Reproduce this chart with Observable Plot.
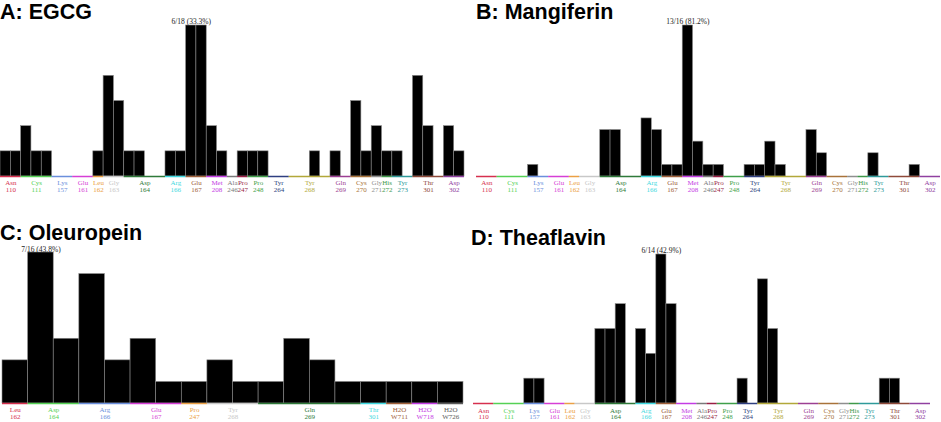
<!DOCTYPE html>
<html><head><meta charset="utf-8">
<script src="https://cdn.jsdelivr.net/npm/d3@7"></script>
<script src="https://cdn.jsdelivr.net/npm/@observablehq/plot@0.6"></script>
<style>
body{margin:0;background:#fff;}
#wrap{position:relative;width:941px;height:422px;overflow:hidden;background:#fff;}
.title{position:absolute;font-family:"Liberation Sans",Arial,sans-serif;font-weight:bold;font-size:21.5px;line-height:normal;color:#000;white-space:nowrap;}
.panel{position:absolute;}
</style></head><body><div id="wrap"></div>
<script>
// Residue layout shared by panels A, B and D
const residueNames = ["Asn","Cys","Lys","Glu","Leu","Gly","Asp","Arg","Glu","Met","Ala","Pro","Pro","Tyr","Tyr","Gln","Cys","Gly","His","Tyr","Thr","Asp"];
const residueNums  = ["110","111","157","161","162","163","164","166","167","208","246","247","248","264","268","269","270","271","272","273","301","302"];
const residueSlots = [2,3,2,2,1,2,4,2,2,2,1,1,2,2,4,2,2,1,1,2,3,2];

// Residue layout of panel C
const oleuNames = ["Leu","Asp","Arg","Glu","Pro","Tyr","Gln","Thr","H2O","H2O","H2O"];
const oleuNums  = ["162","164","166","167","247","268","269","301","W711","W718","W726"];
const oleuSlots = [1,2,2,2,1,2,4,1,1,1,1];

// Label colours (in order of appearance)
const palette = ["#d6304f","#55d155","#6b8fdc","#d63fd6","#eba045","#c8c8c8","#2f7a3a","#3fd9e0","#a0603a","#c43ce4","#7a7a7a",
                 "#9a1f45","#3f9f4a","#2f3f80","#b2a83a","#9c3f93","#a8733a","#8f8f8f","#3f9a4a","#2f9a9a","#8f4a3a","#9040a0"];
const oleuPalette = ["#d6304f","#55d155","#6b8fdc","#d63fd6","#eba045","#c8c8c8","#2f7a3a","#3fd9e0","#a0603a","#c43ce4","#5a5a5a"];

// Contact counts per slot
const egcg       = [1,1,2,1,1,0,0,0,0,1,4,3,1,1,0,0,1,1,6,6,2,1,0,1,1,1,0,0,0,0,1,0,1,0,3,1,2,1,1,0,4,2,0,2,1];
const mangiferin = [0,0,0,0,0,1,0,0,0,0,0,0,4,4,0,0,5,4,1,1,13,3,1,1,0,0,1,1,3,1,0,0,4,2,0,0,0,0,2,0,0,0,1,0,0];
const oleuropein = [2,7,3,6,2,3,1,1,2,1,1,3,2,1,1,1,1,1];
const theaflavin = [0,0,0,0,0,1,1,0,0,0,0,0,3,3,4,0,3,2,6,4,0,0,0,0,0,0,1,0,5,3,0,0,0,0,0,0,0,0,0,0,1,1,0,0,0];

const titles = ["A: EGCG","B: Mangiferin","C: Oleuropein","D: Theaflavin"];
const peakLabels = ["6/18 (33.3%)","13/16 (81.2%)","7/16 (43.8%)","6/14 (42.9%)"];

const serif = "'Liberation Serif','Times New Roman',serif";
const wrap = document.getElementById("wrap");

function spans(names, nums, slots, colors) {
  let s = 0;
  return names.map((n, i) => {
    const o = {name: n, num: nums[i], start: s, end: s + slots[i], color: colors[i]};
    s += slots[i];
    return o;
  });
}

function panel(cfg) {
  const bars = cfg.counts.map((v, i) => ({slot: i, v}));
  const n = cfg.counts.length;
  const max = d3.max(cfg.counts);
  const peak = bars.find(d => d.v === max);
  const sp = spans(cfg.names, cfg.nums, cfg.slots, cfg.colors);
  const svg = Plot.plot({
    width: cfg.width, height: cfg.height,
    marginLeft: cfg.ml, marginRight: cfg.mr, marginTop: cfg.mt, marginBottom: cfg.mb,
    x: {domain: [0, n], axis: null},
    y: {domain: [0, max], axis: null},
    color: {type: "identity"},
    style: {background: "transparent", overflow: "visible"},
    marks: [
      Plot.rect(bars.filter(d => d.v > 0), {x1: "slot", x2: d => d.slot + 1, y1: 0, y2: "v", fill: "#000", stroke: "#8a8a8a", strokeWidth: 0.6}),
      Plot.ruleY([0], {stroke: "#bbb", strokeWidth: 0.8}),
      Plot.ruleY(sp, {y: 0, x1: "start", x2: "end", stroke: "color", strokeWidth: 1.5}),
      Plot.text(sp, {x: d => (d.start + d.end) / 2, y: 0, text: "name", fill: "color", dy: cfg.dy1, fontSize: 7, fontFamily: serif}),
      Plot.text(sp, {x: d => (d.start + d.end) / 2, y: 0, text: "num", fill: "color", dy: cfg.dy2, fontSize: 7, fontFamily: serif}),
      Plot.text([peak], {x: d => d.slot + 0.5, y: "v", text: () => cfg.peak, dy: cfg.pdy, fontSize: 7.5, fontFamily: serif, fill: "#222"})
    ]
  });
  svg.classList.add("panel");
  svg.style.left = cfg.left + "px";
  svg.style.top = cfg.top + "px";
  wrap.appendChild(svg);
  const t = document.createElement("div");
  t.className = "title";
  t.textContent = cfg.title;
  t.style.left = cfg.tx + "px";
  t.style.top = cfg.ty + "px";
  wrap.appendChild(t);
}

panel({counts: egcg, names: residueNames, nums: residueNums, slots: residueSlots, colors: palette,
  left: 0, top: 0, width: 470, height: 200, ml: 0, mr: 6, mt: 25, mb: 24, dy1: 6.5, dy2: 13, pdy: -4,
  peak: peakLabels[0], title: titles[0], tx: 0, ty: 0});
panel({counts: mangiferin, names: residueNames, nums: residueNums, slots: residueSlots, colors: palette,
  left: 470, top: 0, width: 471, height: 200, ml: 6, mr: 1, mt: 25, mb: 24, dy1: 6.5, dy2: 13, pdy: -4,
  peak: peakLabels[1], title: titles[1], tx: 476, ty: 0});
panel({counts: oleuropein, names: oleuNames, nums: oleuNums, slots: oleuSlots, colors: oleuPalette,
  left: 0, top: 220, width: 470, height: 202, ml: 2, mr: 7, mt: 32, mb: 19, dy1: 6.5, dy2: 13.5, pdy: -2.5,
  peak: peakLabels[2], title: titles[2], tx: 0, ty: 221});
panel({counts: theaflavin, names: residueNames, nums: residueNums, slots: residueSlots, colors: palette,
  left: 470, top: 220, width: 471, height: 202, ml: 3, mr: 11, mt: 34, mb: 19, dy1: 7, dy2: 13.5, pdy: -4,
  peak: peakLabels[3], title: titles[3], tx: 471, ty: 226});
</script>
</body></html>
